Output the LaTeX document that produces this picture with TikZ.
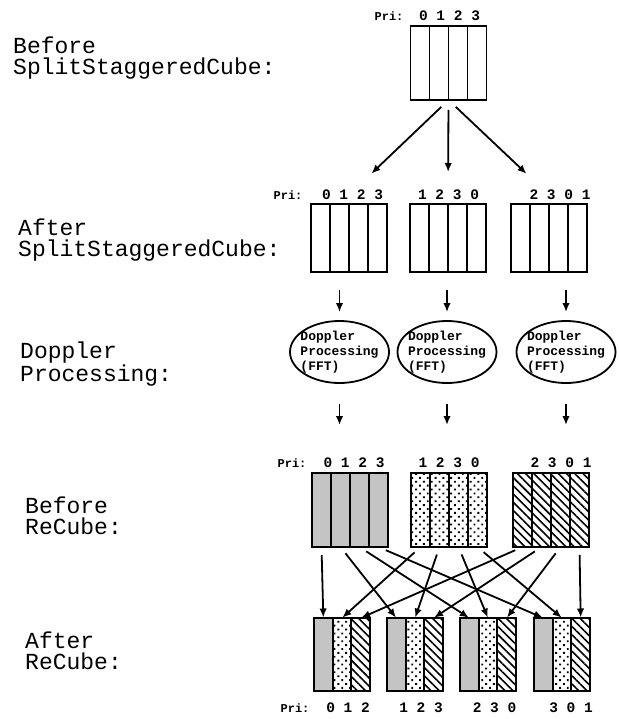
\documentclass[tikz,border=0pt]{standalone}
\usepackage{fontspec}
\setmonofont{Liberation Mono}
\usetikzlibrary{shapes.geometric, arrows.meta, positioning, patterns.meta}

\begin{document}
\begin{tikzpicture}[
    x=1pt, y=-1pt,
    col/.style={rectangle, draw, line width=1.8pt, inner sep=0pt, outer sep=0pt, minimum width=19pt},
    qcol/.style={col, minimum width=18.67pt, minimum height=73pt},
    grayfill/.style={pattern={Dots[distance=2pt, radius=0.6pt]}},
    dotfill/.style={pattern={Dots[distance=5.5pt, angle=45, radius=1.3pt]}},
    hatchfill/.style={pattern={Lines[angle=-45, distance=5.8pt, line width=1.6pt]}},
    proc/.style={ellipse, draw, line width=1.8pt, minimum height=62pt, inner xsep=-4pt, inner ysep=0pt, align=left, font=\fontsize{13}{15}\selectfont\ttfamily\bfseries},
    side/.style={anchor=north west, inner sep=0pt, align=left, font=\fontsize{23}{21}\selectfont\ttfamily},
    pri/.style={inner sep=0pt, font=\fontsize{12}{12}\selectfont\ttfamily\bfseries},
    num/.style={inner sep=0pt, font=\fontsize{14.5}{14.5}\selectfont\ttfamily\bfseries},
    line/.style={draw, -{Latex[length=9pt, width=7.5pt]}, line width=1.8pt}
]
\useasboundingbox (0,0) rectangle (618,719);

% Side labels
\node [side] (lbl1) at (13,37) {Before\\SplitStaggeredCube:};
\node [side] (lbl2) at (18,219) {After\\SplitStaggeredCube:};
\node [side] (lbl3) at (20,342) {Doppler\\Processing:};
\node [side] (lbl4) at (25,497) {Before\\ReCube:};
\node [side] (lbl5) at (25,632) {After\\ReCube:};

% Cube before split
\foreach \i in {0,...,3} \node [col, minimum height=74pt] (t\i) at ({420+19*\i},63) {};
\node [pri] (tpri) at (389,16) {Pri:};
\node [num] (tnum) at (449.5,16) {0 1 2 3};

% Cubes after split
\foreach \i in {0,...,3} {
  \node [col, minimum height=68pt] (s1c\i) at ({320.5+19*\i},238) {};
  \node [col, minimum height=68pt] (s2c\i) at ({419.5+19*\i},238) {};
  \node [col, minimum height=68pt] (s3c\i) at ({520.5+19*\i},238) {};
}
\node [pri] (spri) at (288,195) {Pri:};
\node [num] (snum1) at (352.5,195) {0 1 2 3};
\node [num] (snum2) at (448.5,195) {1 2 3 0};
\node [num] (snum3) at (560,195) {2 3 0 1};

% Doppler processing
\node [proc] (d1) at (339.5,352) {Doppler\\Processing\\(FFT)};
\node [proc] (d2) at (447,352) {Doppler\\Processing\\(FFT)};
\node [proc] (d3) at (566,352) {Doppler\\Processing\\(FFT)};

% Cubes before recube
\foreach \i in {0,...,3} {
  \node [col, grayfill, minimum height=74pt] (r1c\i) at ({321.5+19*\i},510) {};
  \node [col, dotfill, minimum height=74pt] (r2c\i) at ({420.5+19*\i},510) {};
  \node [col, hatchfill, minimum height=74pt] (r3c\i) at ({522.5+19*\i},510) {};
}
\node [pri] (rpri) at (292,463) {Pri:};
\node [num] (rnum1) at (354,463) {0 1 2 3};
\node [num] (rnum2) at (449,463) {1 2 3 0};
\node [num] (rnum3) at (561,463) {2 3 0 1};

% Cubes after recube
\foreach \k/\x in {1/314, 2/387, 3/460, 4/534} {
  \node [qcol, grayfill] (q\k c0) at ({\x+9.33},654.5) {};
  \node [qcol, dotfill] (q\k c1) at ({\x+28},654.5) {};
  \node [qcol, hatchfill] (q\k c2) at ({\x+46.67},654.5) {};
}
\node [pri] (qpri) at (295,708) {Pri:};
\node [num] (qnum1) at (348,708) {0 1 2};
\node [num] (qnum2) at (421,708) {1 2 3};
\node [num] (qnum3) at (494.5,708) {2 3 0};
\node [num] (qnum4) at (571,708) {3 0 1};

% Connectors
\path [line, shorten <=10pt, shorten >=44pt] (t1.south east) -- (s1c1.north);
\path [line, shorten <=10pt, shorten >=32pt] (t1.south east) -- (s2c1.north east);
\path [line, shorten <=10pt, shorten >=44pt] (t1.south east) -- (s3c2.north);
\foreach \n in {1,2,3} {
  \path [line, shorten <=18pt, shorten >=8pt] (d\n.north |- s\n c0.south) -- (d\n.north);
  \path [line, shorten <=20pt, shorten >=48pt] (d\n.south) -- (d\n.south |- r\n c0.north);
}
\foreach \i/\j in {0/1, 1/2, 2/3, 3/4} {
  \path [line, shorten <=8pt, shorten >=0.5pt] (r1c\i.south) -- (q\j c0.north);
  \path [line, shorten <=8pt, shorten >=0.5pt] (r2c\i.south) -- (q\j c1.north);
  \path [line, shorten <=8pt, shorten >=0.5pt] (r3c\i.south) -- (q\j c2.north);
}

\end{tikzpicture}
\end{document}
